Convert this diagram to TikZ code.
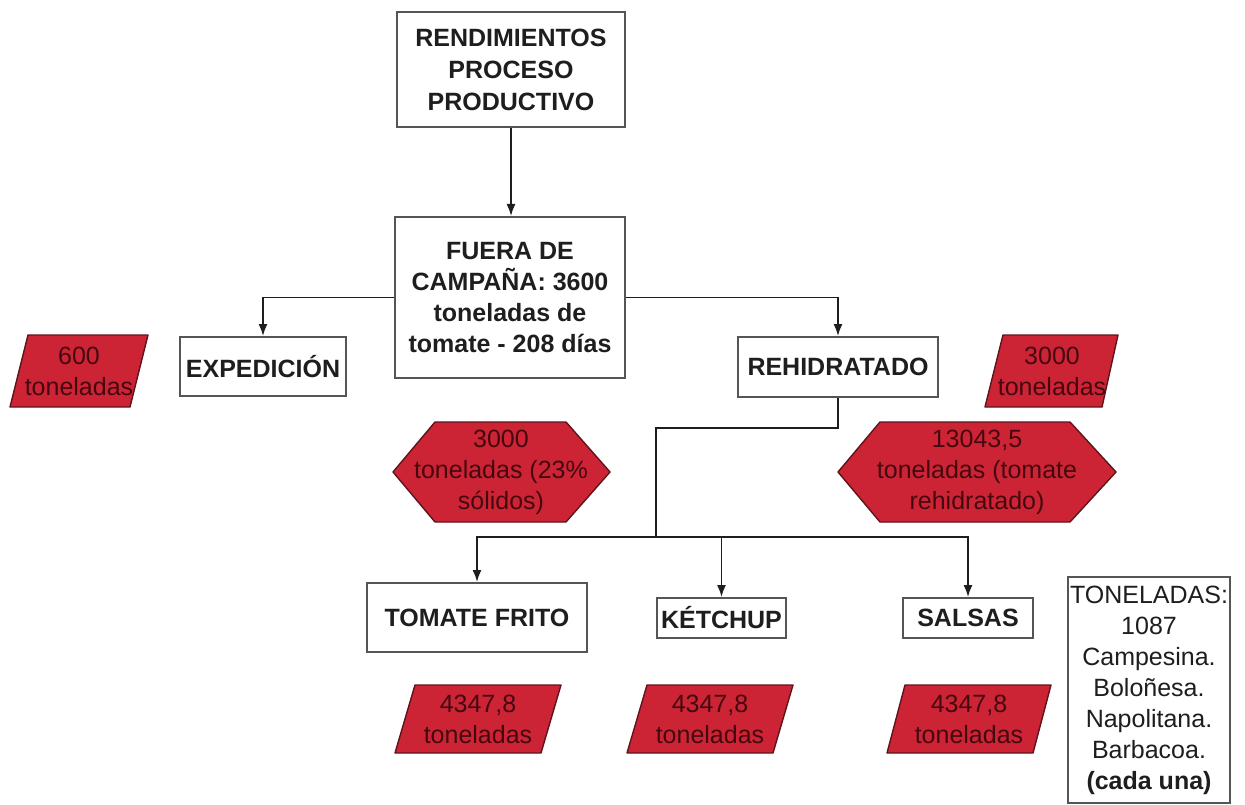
\documentclass[tikz,border=0pt]{standalone}
\usepackage{fontspec}
\setmainfont{Liberation Sans}
\usetikzlibrary{arrows.meta}

\definecolor{boxline}{RGB}{85,85,85}
\definecolor{inkdark}{RGB}{30,30,30}
\definecolor{tomred}{RGB}{204,36,52}
\definecolor{tomedge}{RGB}{95,20,28}
\definecolor{tomink}{RGB}{70,8,16}

\tikzset{
  txt/.style={font=\fontsize{25}{31}\selectfont, align=center, inner sep=0pt},
  stage/.style={txt, draw=boxline, line width=2pt, fill=white, text=inkdark,
                font=\fontsize{25}{31}\selectfont\bfseries},
  notebox/.style={txt, draw=boxline, line width=2pt, fill=white, text=inkdark},
  flow/.style={draw=inkdark, line width=1.6pt},
  flowarrow/.style={flow, -{Latex[length=12pt,width=9pt]}},
  redshape/.style={fill=tomred, draw=tomedge, line width=1.4pt, line join=round},
  redtext/.style={txt, text=tomink},
}

\begin{document}
\begin{tikzpicture}[x=1pt,y=-1pt]
\useasboundingbox (0,0) rectangle (1245,805);
\fill[white] (0,0) rectangle (1245,805);

% process boxes
\node[stage, minimum width=228pt, minimum height=115pt,
      font=\fontsize{25}{32}\selectfont\bfseries] (rend) at (511,69.5)
  {RENDIMIENTOS\\PROCESO\\PRODUCTIVO};
\node[stage, minimum width=230pt, minimum height=161pt] (fuera) at (510,297.5)
  {FUERA DE\\CAMPAÑA: 3600\\toneladas de\\tomate - 208 días};
\node[stage, minimum width=166pt, minimum height=59pt] (exped) at (263,366.5) {EXPEDICIÓN};
\node[stage, minimum width=200pt, minimum height=60pt] (rehid) at (838,367) {REHIDRATADO};
\node[stage, minimum width=220pt, minimum height=69pt] (frito) at (477,617.5) {TOMATE FRITO};
\node[stage, minimum width=129pt, minimum height=40pt] (ketchup) at (721.5,618) {KÉTCHUP};
\node[stage, minimum width=130pt, minimum height=40pt] (salsas) at (968,618) {SALSAS};

% sauce list
\node[notebox, minimum width=162pt, minimum height=226pt] (lista) at (1149,690)
  {TONELADAS:\\1087\\Campesina.\\Boloñesa.\\Napolitana.\\Barbacoa.\\\textbf{(cada una)}};

% quantities (parallelograms and hexagons)
\path[redshape] (28,335) -- (148,335) -- (130,407) -- (10,407) -- cycle;
\node[redtext] (q600) at (79,371) {600\\toneladas};

\path[redshape] (1003,335) -- (1118,335) -- (1102,407) -- (985,407) -- cycle;
\node[redtext] (q3000) at (1052,371) {3000\\toneladas};

\path[redshape] (393,472) -- (435,422) -- (566,422) -- (610,472) -- (566,522) -- (435,522) -- cycle;
\node[redtext] (solidos) at (501,472) {3000\\toneladas (23\%\\sólidos)};

\path[redshape] (838,472) -- (880,422) -- (1070,422) -- (1116,472) -- (1070,522) -- (880,522) -- cycle;
\node[redtext] (rehidq) at (977,472) {13043,5\\toneladas (tomate\\rehidratado)};

\path[redshape] (415,685) -- (561,685) -- (541,753) -- (395,753) -- cycle;
\node[redtext] (qfrito) at (478,719) {4347,8\\toneladas};

\path[redshape] (647,685) -- (793,685) -- (773,753) -- (627,753) -- cycle;
\node[redtext] (qketchup) at (710,719) {4347,8\\toneladas};

\path[redshape] (905,685) -- (1051,685) -- (1033,753) -- (887,753) -- cycle;
\node[redtext] (qsalsas) at (969,719) {4347,8\\toneladas};

% connectors
\coordinate (bend) at (656,428);
\coordinate (bus) at (656,537);

\draw[flowarrow] (rend.south) -- (rend.south |- fuera.north);
\draw[flowarrow] (fuera.west) -| (exped.north);
\draw[flowarrow] (fuera.east) -| (rehid.north);
\draw[flow] (rehid.south) |- (bend) -- (bus);
\draw[flowarrow] (bus) -| (frito.north);
\draw[flowarrow] (bus) -| (salsas.north);
\draw[flowarrow] (ketchup.north |- bus) -- (ketchup.north);
\end{tikzpicture}
\end{document}
